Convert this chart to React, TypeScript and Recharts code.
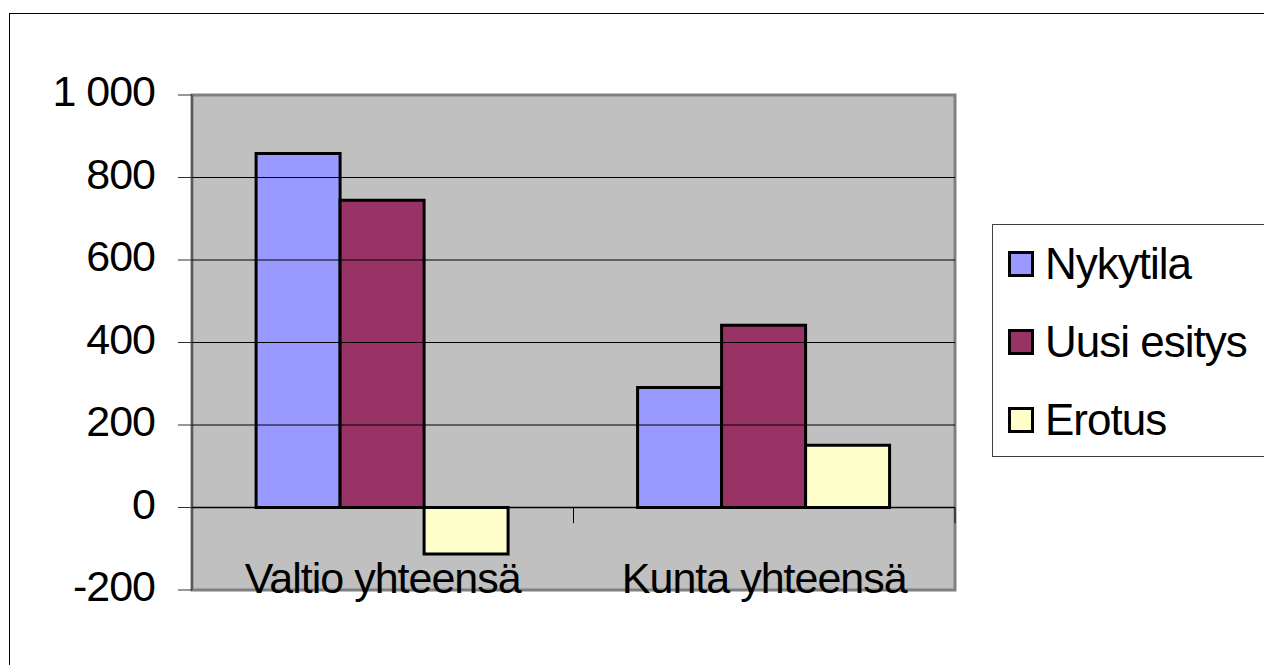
import { BarChart, Bar, XAxis, YAxis, ReferenceLine, ReferenceArea } from "recharts";

const categories = ["Valtio yhteensä", "Kunta yhteensä"];
const nykytila = [858, 291];
const uusiEsitys = [745, 442];
const erotus = [-113, 151];
const yTicks = [-200, 0, 200, 400, 600, 800, 1000];

const SERIES = [
  { key: "nykytila", name: "Nykytila", color: "#9999FF" },
  { key: "uusi", name: "Uusi esitys", color: "#993366" },
  { key: "erotus", name: "Erotus", color: "#FFFFCC" },
];

const data = categories.map((c, i) => ({
  name: c,
  nykytila: nykytila[i],
  uusi: uusiEsitys[i],
  erotus: erotus[i],
}));

const FONT = "'Liberation Sans', Arial, sans-serif";

const fmt = (v: number) => String(v).replace(/\B(?=(\d{3})+(?!\d))/g, " ");

const YTick = ({ x, y, payload }: any) => (
  <text x={x} y={y} dy={11} textAnchor="end" fontSize={43} fill="#000">
    {fmt(payload.value)}
  </text>
);

const XTick = ({ x, y, payload }: any) => (
  <text x={x} y={y} dy={3} textAnchor="middle" fontSize={43} fill="#000">
    {payload.value}
  </text>
);

// inner gridlines only; top/bottom are the plot frame, 0 is the category axis
const gridValues = yTicks.filter((v) => v > 0 && v < 1000);

export default function App() {
  return (
    <div
      style={{
        position: "absolute", left: 9, top: 13, width: 1255, height: 652,
        borderLeft: "1px solid #000", borderTop: "1px solid #000",
        overflow: "hidden", fontFamily: FONT, letterSpacing: -1, background: "#fff",
      }}
    >
      <BarChart
        width={1254}
        height={651}
        data={data}
        margin={{ top: 81, right: 309, bottom: 45, left: 0 }}
        barCategoryGap="16.8%"
        barGap={0}
      >
        <XAxis dataKey="name" axisLine={false} tickLine={false} tickSize={0} tickMargin={0} height={30} tick={<XTick />} interval={0} />
        <YAxis
          domain={[-200, 1000]}
          ticks={yTicks}
          width={182}
          axisLine={{ stroke: "#333" }}
          tickLine={{ stroke: "#333" }}
          tickSize={14}
          tickMargin={23}
          tick={<YTick />}
        />
        <ReferenceArea y1={-200} y2={1000} fill="#C0C0C0" fillOpacity={1} stroke="#808080" strokeWidth={3} />
        {gridValues.map((v) => (
          <ReferenceLine key={v} y={v} stroke="#000" strokeWidth={1} />
        ))}
        <ReferenceLine y={0} stroke="#000" strokeWidth={1.5} />
        {/* small tick marks at the end of each category, hanging below the 0 line */}
        {categories.map((c) => (
          <ReferenceLine key={c} segment={[{ x: c, y: 0 }, { x: c, y: -38 }]} position="end" stroke="#000" strokeWidth={1} ifOverflow="visible" />
        ))}
        {SERIES.map((s) => (
          <Bar key={s.key} dataKey={s.key} name={s.name} fill={s.color} stroke="#000" strokeWidth={3} isAnimationActive={false} />
        ))}
      </BarChart>

      {/* legend */}
      <div
        style={{
          position: "absolute", left: 982, top: 210, width: 300, height: 233,
          border: "1px solid #404040", boxSizing: "border-box", background: "#fff",
        }}
      >
        {SERIES.map((s) => (
          <div key={s.key} style={{ display: "flex", alignItems: "center", height: 78, paddingLeft: 15 }}>
            <span style={{ width: 20, height: 20, border: "3px solid #000", background: s.color, flexShrink: 0 }} />
            <span style={{ fontSize: 44, marginLeft: 11, color: "#000", lineHeight: 1 }}>{s.name}</span>
          </div>
        ))}
      </div>
    </div>
  );
}
